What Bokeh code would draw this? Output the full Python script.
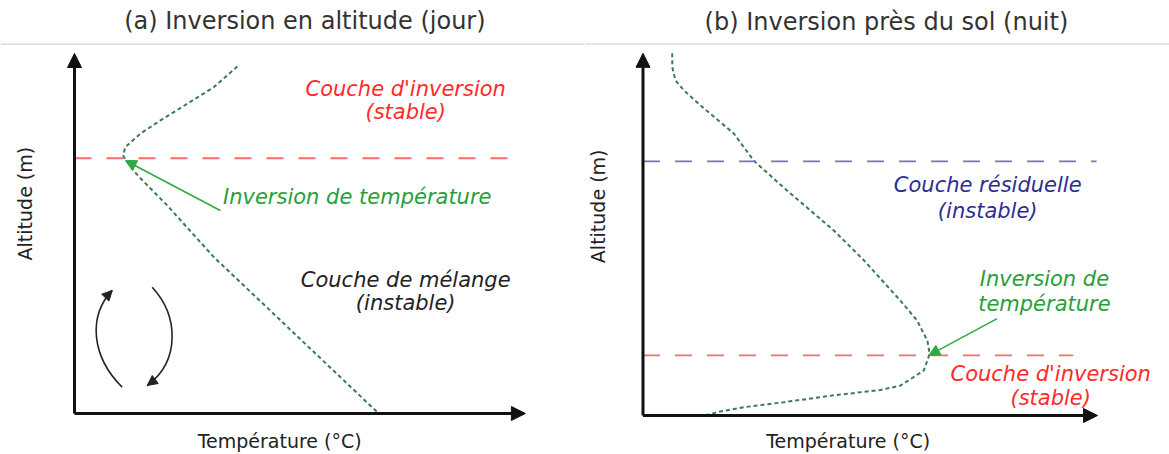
import numpy as np
from bokeh.plotting import figure
from bokeh.layouts import row
from bokeh.models import Arrow, NormalHead, Span, Range1d
from bokeh.core.properties import value
from bokeh.embed import file_html
from bokeh.resources import INLINE

# ---------------- data (schematic units: % of axis length) ----------------
titles = ["(a) Inversion en altitude (jour)", "(b) Inversion près du sol (nuit)"]
x_label = "Température (°C)"
y_label = "Altitude (m)"

# (a) daytime profile: inversion aloft
a_temp = [36.2, 30.9, 25.0, 19.1, 14.7, 11.3, 10.8, 11.3, 12.0, 13.3, 14.7, 16.9, 20.6, 31.0, 67.6]
a_alt = [96.4, 90.6, 86.0, 81.4, 77.8, 74.0, 71.7, 70.6, 69.4, 67.2, 65.3, 62.5, 57.8, 43.4, 0.0]
a_inversion_alt = 70.9
a_labels = ["Couche d'inversion", "(stable)", "Inversion de température",
            "Couche de mélange", "(instable)"]

# (b) night profile: surface inversion
b_temp = [6.5, 6.5, 7.2, 9.1, 12.8, 20.2, 24.6, 32.0, 42.4, 49.1, 57.2, 60.9, 63.2,
          63.7, 62.4, 57.2, 52.8, 42.4, 31.3, 22.4, 17.2, 14.3]
b_alt = [100.6, 96.8, 93.1, 90.3, 86.1, 78.3, 70.8, 62.5, 51.4, 43.1, 31.9, 26.4, 20.8,
         17.1, 12.5, 8.3, 7.1, 5.6, 3.7, 2.3, 1.1, 0.2]
b_residual_alt = 70.6
b_inversion_alt = 16.7
b_labels = ["Couche résiduelle", "(instable)", "Inversion de", "température",
            "Couche d'inversion", "(stable)"]

# ---------------- styles ----------------
FONT = value("DejaVu Sans")
RED_TXT = "#ff2a2a"
RED_LINE = "#ff6b6b"
BLUE_TXT = "#2e2e8f"
BLUE_LINE = "#7474b8"
GREEN_TXT = "#27a03a"
GREEN_ARROW = "#33a844"
CURVE = "#3b7a57"
AXIS = "#111111"
H = 454


def make_panel(width, xr, yr):
    p = figure(width=width, height=H, x_range=Range1d(*xr), y_range=Range1d(*yr),
               x_axis_type=None, y_axis_type=None, output_backend="svg",
               toolbar_location=None, min_border=0)
    p.grid.visible = False
    p.outline_line_color = None
    p.background_fill_color = "white"
    p.border_fill_color = "white"
    return p


def axes(p, xmax, ymax):
    for xe, ye in [(xmax, 0), (0, ymax)]:
        p.add_layout(Arrow(end=NormalHead(size=14, fill_color=AXIS, line_color=AXIS, line_width=1),
                           x_start=0, y_start=0, x_end=xe, y_end=ye,
                           line_width=3, line_color=AXIS))


def txt(p, x, y, t, color, size="21px", style="italic", align="center", angle=0.0,
        baseline="alphabetic"):
    p.text(x=[x], y=[y], text=[t], text_font=FONT, text_font_size=value(size),
           text_font_style=style, text_color=color, text_align=align,
           text_baseline=baseline, angle=angle)


# ---------------- panel (a) ----------------
pa = make_panel(584, (-16.444, 113.333), (-11.389, 114.722))
pa.add_layout(Span(location=102.6, dimension="width", line_color="#dcdcdc", line_width=1.5))
txt(pa, 51.2, 108.9, titles[0], "#333333", size="24px", style="normal")
axes(pa, 100.2, 100.0)
pa.line(a_temp, a_alt, line_color=CURVE, line_width=2, line_dash="4 3")
pa.line([0, 96.4], [a_inversion_alt, a_inversion_alt], line_color=RED_LINE, line_width=1.8,
        line_dash="17 15")
pa.add_layout(Arrow(end=NormalHead(size=11, fill_color=GREEN_ARROW, line_color=GREEN_ARROW),
                    x_start=32.4, y_start=56.4, x_end=11.3, y_end=70.3,
                    line_color=GREEN_ARROW, line_width=1.6))
# convection loops
pa.bezier(x0=[10.6, 17.27], y0=[7.3, 35.08], x1=[8.38, 16.16], y1=[34.2, 7.78],
          cx0=[3.56, 23.1], cy0=[16.1, 27.2], cx1=[3.11, 23.6], cy1=[27.2, 14.7],
          line_color="#222222", line_width=1.6)
for xs, ys, xe, ye in [(7.85, 33.5, 8.38, 34.2), (16.9, 8.47, 16.16, 7.78)]:
    pa.add_layout(Arrow(end=NormalHead(size=10, fill_color="#222222", line_color="#222222"),
                        x_start=xs, y_start=ys, x_end=xe, y_end=ye, line_alpha=0))
txt(pa, 73.6, 90.14, a_labels[0], RED_TXT)
txt(pa, 73.6, 83.75, a_labels[1], RED_TXT)
txt(pa, 33.0, 60.0, a_labels[2], GREEN_TXT, align="left")
txt(pa, 73.6, 37.2, a_labels[3], "#222222")
txt(pa, 73.6, 30.56, a_labels[4], "#222222")
txt(pa, 45.6, -7.6, x_label, "#222222", size="19px", style="normal")
txt(pa, -11.1, 58.3, y_label, "#222222", size="19px", style="normal", angle=np.pi / 2,
    baseline="middle")

# ---------------- panel (b) ----------------
pb = make_panel(585, (-13.0, 117.0), (-10.833, 115.278))
pb.add_layout(Span(location=103.2, dimension="width", line_color="#dcdcdc", line_width=1.5))
txt(pb, 54.1, 109.4, titles[1], "#333333", size="24px", style="normal")
axes(pb, 101.0, 100.6)
pb.line(b_temp, b_alt, line_color=CURVE, line_width=2, line_dash="4 3")
pb.line([0, 100.8], [b_residual_alt, b_residual_alt], line_color=BLUE_LINE, line_width=1.8,
        line_dash="17 15")
pb.line([0, 95.6], [b_inversion_alt, b_inversion_alt], line_color=RED_LINE, line_width=1.8,
        line_dash="17 15")
pb.add_layout(Arrow(end=NormalHead(size=11, fill_color=GREEN_ARROW, line_color=GREEN_ARROW),
                    x_start=78.7, y_start=26.9, x_end=63.5, y_end=16.7,
                    line_color=GREEN_ARROW, line_width=1.6))
txt(pb, 76.6, 63.9, b_labels[0], BLUE_TXT)
txt(pb, 76.6, 56.9, b_labels[1], BLUE_TXT)
txt(pb, 89.2, 37.8, b_labels[2], GREEN_TXT)
txt(pb, 89.2, 31.1, b_labels[3], GREEN_TXT)
txt(pb, 90.6, 11.4, b_labels[4], RED_TXT)
txt(pb, 90.6, 5.0, b_labels[5], RED_TXT)
txt(pb, 45.6, -7.05, x_label, "#222222", size="19px", style="normal")
txt(pb, -10.1, 58.1, y_label, "#222222", size="19px", style="normal", angle=np.pi / 2,
    baseline="middle")

layout = row(pa, pb, spacing=0)
open("out.html", "w").write(file_html(layout, INLINE))
